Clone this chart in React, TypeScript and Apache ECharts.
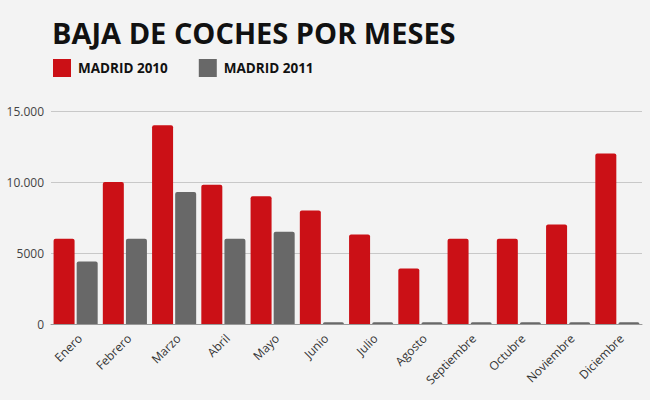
import React, { useEffect, useRef } from "react";
import * as echarts from "echarts";

const months = ["Enero", "Febrero", "Marzo", "Abril", "Mayo", "Junio", "Julio", "Agosto", "Septiembre", "Octubre", "Noviembre", "Diciembre"];
const madrid2010 = [6000, 10000, 14000, 9800, 9000, 8000, 6300, 3900, 6000, 6000, 7000, 12000];
const madrid2011 = [4400, 6000, 9300, 6000, 6500, 120, 120, 120, 120, 120, 120, 120];
const yTicks = [0, 5000, 10000, 15000];
const yTickLabels = ["0", "5000", "10.000", "15.000"];

export default function App() {
  const ref = useRef<HTMLDivElement>(null);
  useEffect(() => {
    document.body.style.margin = "0";
    const chart = echarts.init(ref.current!, null, { renderer: "svg" });
    chart.setOption({
      animation: false,
      backgroundColor: "#f3f3f3",
      title: {
        text: "BAJA DE COCHES POR MESES",
        left: 47,
        top: 13,
        textStyle: { fontFamily: "Open Sans", fontWeight: "bold", fontSize: 29, color: "#111" },
      },
      legend: {
        left: 48,
        top: 54,
        icon: "rect",
        itemWidth: 18,
        itemHeight: 18,
        itemGap: 31,
        textStyle: { fontFamily: "Open Sans", fontWeight: "bold", fontSize: 13.5, color: "#111", padding: [0, 0, 0, 2] },
        data: ["MADRID 2010", "MADRID 2011"],
      },
      grid: { left: 51, right: 8, top: 111, bottom: 76, containLabel: false },
      xAxis: {
        type: "category",
        data: months,
        axisTick: { show: false },
        axisLine: { lineStyle: { color: "#999" } },
        axisLabel: { rotate: 45, fontFamily: "Open Sans", fontSize: 12, color: "#333", margin: 8, verticalAlign: "top", interval: 0 },
      },
      yAxis: {
        type: "value",
        min: yTicks[0],
        max: yTicks[yTicks.length - 1],
        interval: yTicks[1] - yTicks[0],
        splitLine: { lineStyle: { color: "#c8c8c8" } },
        axisLabel: {
          fontFamily: "Open Sans",
          fontSize: 12,
          color: "#444",
          margin: 7,
          formatter: (v: number) => yTickLabels[yTicks.indexOf(v)] ?? String(v),
        },
      },
      series: [
        {
          name: "MADRID 2010",
          type: "bar",
          data: madrid2010,
          barWidth: 21,
          barGap: "10%",
          itemStyle: { color: "#cb1016", borderRadius: [2, 2, 0, 0] },
        },
        {
          name: "MADRID 2011",
          type: "bar",
          data: madrid2011,
          barWidth: 21,
          itemStyle: { color: "#686868", borderRadius: [2, 2, 0, 0] },
        },
      ],
    });
    return () => chart.dispose();
  }, []);
  return <div ref={ref} style={{ width: 650, height: 400 }} />;
}
